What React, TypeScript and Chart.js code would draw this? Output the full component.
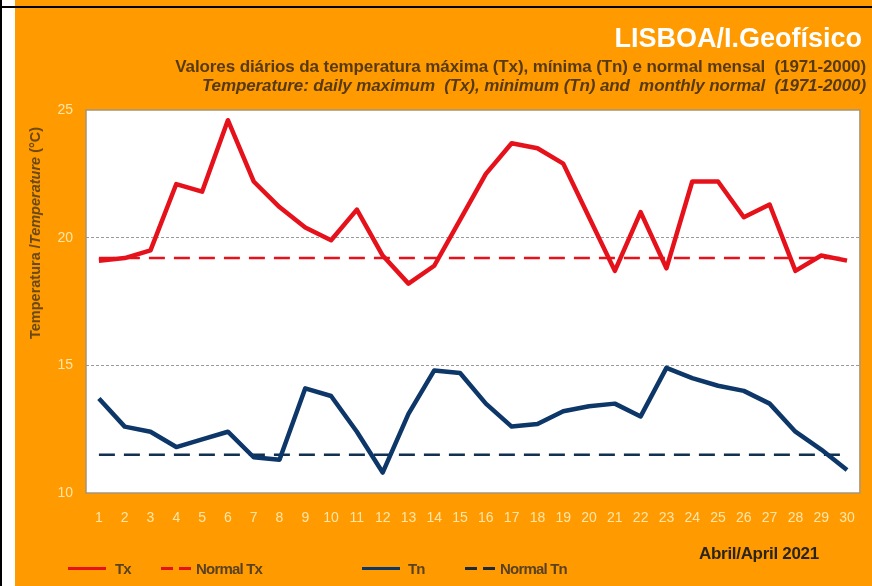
import React, { useEffect, useRef } from "react";
import { Chart, registerables } from "chart.js";

Chart.register(...registerables);

const days = ["1","2","3","4","5","6","7","8","9","10","11","12","13","14","15","16","17","18","19","20","21","22","23","24","25","26","27","28","29","30"];
const tx = [19.1, 19.2, 19.5, 22.1, 21.8, 24.6, 22.2, 21.2, 20.4, 19.9, 21.1, 19.3, 18.2, 18.9, 20.7, 22.5, 23.7, 23.5, 22.9, 20.8, 18.7, 21.0, 18.8, 22.2, 22.2, 20.8, 21.3, 18.7, 19.3, 19.1];
const tn = [13.7, 12.6, 12.4, 11.8, 12.1, 12.4, 11.4, 11.3, 14.1, 13.8, 12.4, 10.8, 13.1, 14.8, 14.7, 13.5, 12.6, 12.7, 13.2, 13.4, 13.5, 13.0, 14.9, 14.5, 14.2, 14.0, 13.5, 12.4, 11.7, 10.9];
const normalTx = [19.2, 19.2, 19.2, 19.2, 19.2, 19.2, 19.2, 19.2, 19.2, 19.2, 19.2, 19.2, 19.2, 19.2, 19.2, 19.2, 19.2, 19.2, 19.2, 19.2, 19.2, 19.2, 19.2, 19.2, 19.2, 19.2, 19.2, 19.2, 19.2, 19.2];
const normalTn = [11.5, 11.5, 11.5, 11.5, 11.5, 11.5, 11.5, 11.5, 11.5, 11.5, 11.5, 11.5, 11.5, 11.5, 11.5, 11.5, 11.5, 11.5, 11.5, 11.5, 11.5, 11.5, 11.5, 11.5, 11.5, 11.5, 11.5, 11.5, 11.5, 11.5];
const yTicks = [10, 15, 20, 25];

const ORANGE = "#FF9A00";
const RED = "#E6121B";
const NAVY = "#0C3768";
const TICK = "#FFE6A8";
const BROWN = "#573A10";

const areaPlugin = {
  id: "areaPlugin",
  beforeDraw(chart: any) {
    const { ctx, chartArea: a } = chart;
    ctx.save();
    ctx.fillStyle = "#FFFFFF";
    ctx.fillRect(a.left, a.top, a.right - a.left, a.bottom - a.top);
    ctx.restore();
  },
  beforeDatasetsDraw(chart: any) {
    const { ctx, chartArea: a } = chart;
    ctx.save();
    ctx.strokeStyle = "#A89474";
    ctx.lineWidth = 1.5;
    ctx.strokeRect(a.left, a.top, a.right - a.left, a.bottom - a.top);
    ctx.restore();
  },
};

function LegendLine({ color, dashed }: { color: string; dashed: boolean }) {
  if (!dashed) {
    return <span style={{ display: "inline-block", width: 38, height: 3, background: color, verticalAlign: "middle" }} />;
  }
  return (
    <span style={{ display: "inline-block", width: 32, height: 3, verticalAlign: "middle", position: "relative" }}>
      <span style={{ position: "absolute", left: 0, top: 0, width: 12, height: 3, background: color }} />
      <span style={{ position: "absolute", left: 18, top: 0, width: 12, height: 3, background: color }} />
    </span>
  );
}

export default function App() {
  const ref = useRef<HTMLCanvasElement>(null);
  useEffect(() => {
    if (!ref.current) return;
    const chart = new Chart(ref.current, {
      type: "line",
      data: {
        labels: days,
        datasets: [
          { label: "Tx", data: tx, borderColor: RED, borderWidth: 4.5, pointRadius: 0, tension: 0, borderJoinStyle: "round" as any },
          { label: "Tn", data: tn, borderColor: NAVY, borderWidth: 4.5, pointRadius: 0, tension: 0, borderJoinStyle: "round" as any },
          { label: "Normal Tx", data: normalTx, borderColor: RED, borderWidth: 2.5, borderDash: [16, 9], pointRadius: 0 },
          { label: "Normal Tn", data: normalTn, borderColor: "#12304F", borderWidth: 2.5, borderDash: [16, 9], pointRadius: 0 },
        ],
      },
      options: {
        responsive: false,
        animation: false,
        layout: { padding: { top: 110, right: 12, bottom: 0, left: 0 } },
        plugins: { legend: { display: false }, tooltip: { enabled: false }, title: { display: false } },
        scales: {
          x: {
            offset: true,
            grid: { display: false, drawTicks: false },
            border: { display: false },
            ticks: { color: TICK, font: { family: "Liberation Sans", size: 14 }, padding: 17, maxRotation: 0, autoSkip: false },
            afterFit(scale: any) { scale.height = 93; },
          },
          y: {
            min: 10,
            max: 25,
            afterBuildTicks(scale: any) { scale.ticks = yTicks.map((v) => ({ value: v })); },
            grid: {
              drawTicks: false,
              color: (c: any) => (c.tick && (c.tick.value === 15 || c.tick.value === 20) ? "#9A9A9A" : "rgba(0,0,0,0)"),
              lineWidth: 1,
            },
            border: { display: false, dash: [3, 2] },
            ticks: { color: TICK, font: { family: "Liberation Sans", size: 14 }, padding: 13 },
            afterFit(scale: any) { scale.width = 71; },
          },
        },
      },
      plugins: [areaPlugin],
    });
    return () => chart.destroy();
  }, []);

  const font = "'Liberation Sans', Arial, sans-serif";
  return (
    <div style={{ position: "absolute", left: 0, top: 0, width: 872, height: 586, background: "#FFFFFF", overflow: "hidden" }}>
      <div style={{ position: "absolute", left: 0, top: 0, width: 2, height: 586, background: "#000" }} />
      <div style={{ position: "absolute", left: 15, top: 0, width: 857, height: 586, background: ORANGE }}>
        <canvas ref={ref} width={857} height={586} style={{ position: "absolute", left: 0, top: 0 }} />
      </div>
      <div style={{ position: "absolute", left: 0, top: 6, width: 872, height: 2, background: "#000" }} />
      <div style={{ position: "absolute", right: 10, top: 24, fontFamily: font, fontWeight: 700, fontSize: 27, color: "#FFFFFF", whiteSpace: "nowrap", lineHeight: "28px" }}>
        LISBOA/I.Geofísico
      </div>
      <div style={{ position: "absolute", right: 6, top: 57, fontFamily: font, fontWeight: 700, fontSize: 17, color: BROWN, whiteSpace: "nowrap", lineHeight: "19px", textAlign: "right", letterSpacing: -0.1 }}>
        Valores diários da temperatura máxima (Tx), mínima (Tn) e normal mensal&nbsp; (1971-2000)
        <br />
        <i>Temperature: daily maximum&nbsp; (Tx), minimum (Tn) and&nbsp; monthly normal&nbsp; (1971-2000)</i>
      </div>
      <div style={{ position: "absolute", left: 35, top: 233, transform: "translate(-50%, -50%) rotate(-90deg)", fontFamily: font, fontWeight: 700, fontSize: 14.5, color: "#6A4710", whiteSpace: "nowrap" }}>
        Temperatura /<i>Temperature</i> (°C)
      </div>
      <div style={{ position: "absolute", left: 699, top: 544, fontFamily: font, fontWeight: 700, fontSize: 17, color: "#2B2418", whiteSpace: "nowrap", letterSpacing: -0.3 }}>
        Abril/April 2021
      </div>
      <div style={{ position: "absolute", left: 68, top: 560, fontFamily: font, fontWeight: 700, fontSize: 15, color: "#5A4220", whiteSpace: "nowrap", display: "flex", alignItems: "center", letterSpacing: -0.8 }}>
        <LegendLine color={RED} dashed={false} />
        <span style={{ marginLeft: 9, width: 46, display: "inline-block" }}>Tx</span>
        <LegendLine color={RED} dashed={true} />
        <span style={{ marginLeft: 3, width: 166, display: "inline-block" }}>Normal Tx</span>
        <LegendLine color={NAVY} dashed={false} />
        <span style={{ marginLeft: 8, width: 57, display: "inline-block" }}>Tn</span>
        <LegendLine color={"#1A2A3A"} dashed={true} />
        <span style={{ marginLeft: 3, display: "inline-block" }}>Normal Tn</span>
      </div>
    </div>
  );
}
